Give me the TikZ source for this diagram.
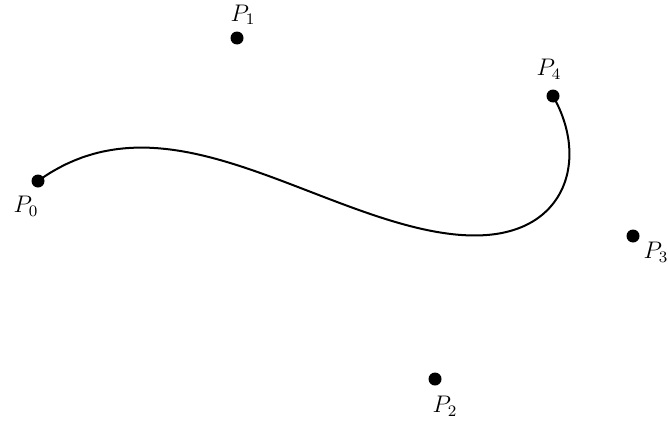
\documentclass[tikz,border=0pt]{standalone}
\begin{document}
\begin{tikzpicture}[x=0.5pt,y=-0.5pt,
  dot/.style={circle,fill=black,inner sep=0pt,minimum size=6.5pt},
  lbl/.style={inner sep=0pt,font=\fontsize{12}{14}\selectfont}]
\useasboundingbox (0,0) rectangle (668,423);
\node[dot] (p0) at (38,181) {};
\node[dot] (p1) at (237,38) {};
\node[dot] (p2) at (435,379) {};
\node[dot] (p3) at (633,236) {};
\node[dot] (p4) at (553,96) {};
\node[lbl] (l0) at (26,206) {$P_0$};
\node[lbl] (l1) at (243,15) {$P_1$};
\node[lbl] (l2) at (445,406) {$P_2$};
\node[lbl] (l3) at (656,252) {$P_3$};
\node[lbl] (l4) at (549,69) {$P_4$};
\draw[line width=1pt] plot[domain=0:1,samples=200,variable=\t]
 ({(1-\t)^4*38+4*(1-\t)^3*\t*237+6*(1-\t)^2*\t^2*435+4*(1-\t)*\t^3*633+\t^4*553},
  {(1-\t)^4*181+4*(1-\t)^3*\t*38+6*(1-\t)^2*\t^2*379+4*(1-\t)*\t^3*236+\t^4*96});
\end{tikzpicture}
\end{document}
